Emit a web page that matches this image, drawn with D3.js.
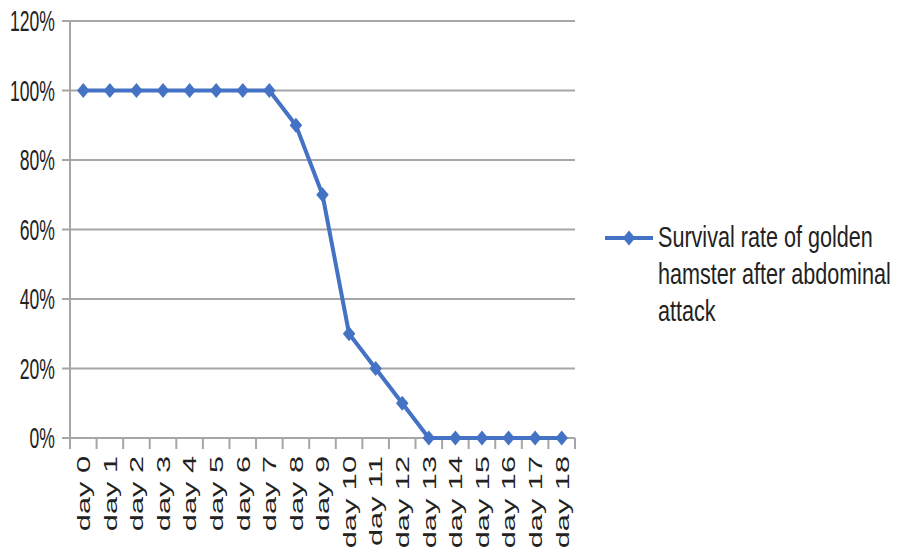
<!DOCTYPE html>
<html>
<head>
<meta charset="utf-8">
<script src="https://cdn.jsdelivr.net/npm/d3@7"></script>
<style>
  html, body { margin: 0; padding: 0; background: #fff; }
  svg { display: block; font-family: "Liberation Sans", Arial, sans-serif; }
</style>
</head>
<body>
<svg id="chart" width="898" height="549"></svg>
<script>
// Survival of golden hamsters, day by day
const days = ["day 0","day 1","day 2","day 3","day 4","day 5","day 6","day 7","day 8","day 9",
              "day 10","day 11","day 12","day 13","day 14","day 15","day 16","day 17","day 18"];
const survival = [100,100,100,100,100,100,100,100,90,70,30,20,10,0,0,0,0,0,0];
const yTicks = [0,20,40,60,80,100,120];
const seriesName = ["Survival rate of golden", "hamster after abdominal", "attack"];

const W = 898, H = 549;
const plot = {left: 70, right: 575, top: 21, bottom: 438};
const color = "#4472C4";
const gridColor = "#a6a6a6";
const textColor = "#222";
// glyphs are drawn narrow and tall
const sx = 0.88, sy = 1.45;

const svg = d3.select("#chart");

const x = d3.scaleBand().domain(days).range([plot.left, plot.right]).padding(0);
const y = d3.scaleLinear().domain([0, 120]).range([plot.bottom, plot.top]);

// horizontal gridlines
svg.append("g").selectAll("line").data(yTicks).join("line")
  .attr("x1", plot.left - 8).attr("x2", plot.right)
  .attr("y1", d => y(d)).attr("y2", d => y(d))
  .attr("stroke", gridColor).attr("stroke-width", 2);

// vertical axis line
svg.append("line")
  .attr("x1", plot.left).attr("x2", plot.left)
  .attr("y1", plot.top).attr("y2", plot.bottom + 11)
  .attr("stroke", gridColor).attr("stroke-width", 2);

// category boundary ticks on the x axis
const bounds = days.map(d => x(d)).concat([plot.right]);
svg.append("g").selectAll("line").data(bounds).join("line")
  .attr("x1", d => d).attr("x2", d => d)
  .attr("y1", plot.bottom).attr("y2", plot.bottom + 11)
  .attr("stroke", gridColor).attr("stroke-width", 2);

// y tick labels
svg.append("g").selectAll("text").data(yTicks).join("text")
  .attr("transform", d => `translate(55,${y(d)}) scale(${sx},${sy})`)
  .attr("text-anchor", "end")
  .attr("dy", "0.35em")
  .attr("font-size", 20)
  .attr("fill", textColor)
  .text(d => d + "%");

// x tick labels, rotated to read bottom-to-top
svg.append("g").selectAll("text").data(days).join("text")
  .attr("transform", d => `translate(${x(d) + x.bandwidth() / 2},456) scale(0.92,1.5) rotate(-90)`)
  .attr("text-anchor", "end")
  .attr("dy", "0.36em")
  .attr("font-size", 20.5)
  .attr("fill", textColor)
  .text(d => d);

// series line
const line = d3.line()
  .x((d, i) => x(days[i]) + x.bandwidth() / 2)
  .y(d => y(d));
svg.append("path")
  .datum(survival)
  .attr("d", line)
  .attr("fill", "none")
  .attr("stroke", color)
  .attr("stroke-width", 4)
  .attr("stroke-linejoin", "round");

// diamond markers
const diamond = d3.symbol().type(d3.symbolDiamond2).size(100);
svg.append("g").selectAll("path").data(survival).join("path")
  .attr("d", diamond)
  .attr("transform", (d, i) => `translate(${x(days[i]) + x.bandwidth() / 2},${y(d)}) scale(1,1.2)`)
  .attr("fill", color);

// legend
const lg = svg.append("g");
lg.append("line")
  .attr("x1", 605).attr("x2", 653).attr("y1", 238).attr("y2", 238)
  .attr("stroke", color).attr("stroke-width", 4);
lg.append("path")
  .attr("d", diamond)
  .attr("transform", "translate(629,238) scale(1,1.2)")
  .attr("fill", color);
lg.selectAll("text").data(seriesName).join("text")
  .attr("transform", (d, i) => `translate(658,${247 + i * 37}) scale(1.08,${sy})`)
  .attr("font-size", 20)
  .attr("fill", textColor)
  .text(d => d);
</script>
</body>
</html>
